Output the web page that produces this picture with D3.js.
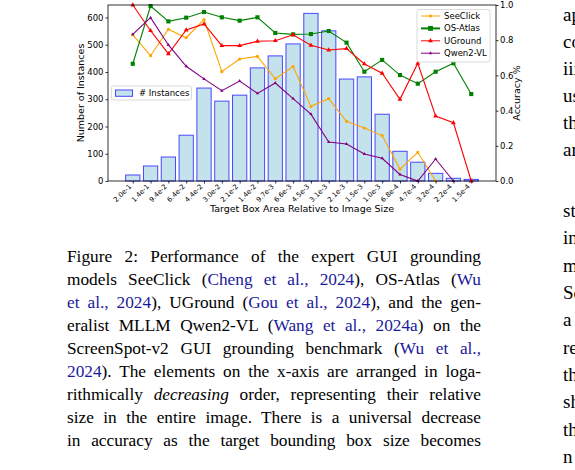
<!DOCTYPE html>
<meta charset="utf-8">
<script src="https://d3js.org/d3.v7.min.js"></script>
<style>
body {
    margin: 0;
    background: #fff;
    width: 575px;
    height: 470px;
    overflow: hidden;
    position: relative;
}
svg {
    position: absolute;
    left: 0;
    top: 0;
}
text {
    fill: #000;
    font-family: 'DejaVu Sans', sans-serif;
}
.caption {
    position: absolute;
    left: 67px;
    top: 244.5px;
    width: 414px;
    font: 17.3px/23.1px 'Liberation Serif', 'Times New Roman', serif;
    color: #000;
}
.caption div {
    text-align: justify;
    text-align-last: justify;
}
.cite { color: #1a1a9c; }
</style>
<body>
<script>
// tick labels (relative box area) and bar counts
var categories = ['2.0e-1', '1.4e-1', '9.4e-2', '6.4e-2', '4.4e-2', '3.0e-2', '2.1e-2', '1.4e-2', '9.7e-3', '6.6e-3',
                  '4.5e-3', '3.1e-3', '2.1e-3', '1.5e-3', '1.0e-3', '6.8e-4', '4.7e-4', '3.2e-4', '2.2e-4', '1.5e-4'];
var instances = [22, 55, 88, 168, 341, 293, 315, 415, 459, 503, 615, 551, 374, 382, 245, 109, 69, 28, 10, 6];

// accuracy per model (null = no point)
var seeclick = [0.830, 0.712, 0.862, 0.814, 0.917, 0.621, 0.693, 0.708, 0.581, 0.650,
                0.424, 0.468, 0.339, 0.301, 0.258, 0.068, 0.163, 0.0, null, null];
var osatlas  = [0.666, 0.994, 0.907, 0.928, 0.960, 0.930, 0.911, 0.930, 0.841, 0.833,
                0.835, 0.852, 0.786, 0.621, 0.688, 0.602, 0.553, 0.621, 0.669, 0.494];
var uground  = [1.000, 0.854, 0.723, 0.858, 0.892, 0.769, 0.769, 0.794, 0.797, 0.831,
                0.771, 0.744, 0.752, 0.665, 0.612, 0.464, 0.669, 0.369, 0.331, 0.0];
var qwen     = [0.833, 0.928, 0.773, 0.652, 0.580, 0.513, 0.568, 0.498, 0.557, 0.468,
                0.380, 0.222, 0.210, 0.153, 0.129, 0.037, 0.0, 0.125, 0.0, null];

var leftTicks = [0, 100, 200, 300, 400, 500, 600];
var rightTicks = [0, 0.2, 0.4, 0.6, 0.8, 1.0];

var models = [
    {name: 'SeeClick', values: seeclick, color: 'orange', symbol: d3.symbolCircle, size: 8, legendWidth: 1},
    {name: 'OS-Atlas', values: osatlas, color: 'green', symbol: d3.symbolSquare, size: 17, legendWidth: 2},
    {name: 'UGround', values: uground, color: 'red', symbol: d3.symbolTriangle, size: 10, legendWidth: 1},
    {name: 'Qwen2-VL', values: qwen, color: 'purple', symbol: d3.symbolTriangle, size: 5, legendWidth: 1}
];

var W = 575, H = 470;
var plot = {left: 108, right: 496, top: 5, bottom: 181};

var svg = d3.select('body').append('svg')
    .attr('width', W)
    .attr('height', H);

// scales
var x = d3.scaleLinear().domain([-1.39, 20.39]).range([plot.left, plot.right]);
var yL = d3.scaleLinear().domain([0, 645.75]).range([plot.bottom, plot.top]);
var yR = d3.scaleLinear().domain([0, 1]).range([plot.bottom, plot.top]);

// bars
var barW = x(0.8) - x(0);
svg.selectAll('.bar')
    .data(instances)
    .enter()
    .append('rect')
    .attr('class', 'bar')
    .attr('x', function(d, i) { return x(i - 0.4); })
    .attr('y', function(d) { return yL(d); })
    .attr('width', barW)
    .attr('height', function(d) { return yL(0) - yL(d); })
    .style('fill', '#c4e2eb')
    .style('stroke', '#4848ff')
    .style('stroke-width', 1);

// left legend
var lg = svg.append('g');
lg.append('rect')
    .attr('x', 111.5).attr('y', 86).attr('width', 80).attr('height', 14)
    .attr('rx', 2)
    .style('fill', 'white').style('fill-opacity', 0.8)
    .style('stroke', '#d0d0d0').style('stroke-width', 0.8);
lg.append('rect')
    .attr('x', 115.5).attr('y', 90).attr('width', 17).attr('height', 6.3)
    .style('fill', '#c4e2eb').style('stroke', '#4848ff').style('stroke-width', 1);
lg.append('text')
    .attr('x', 139).attr('y', 93.3)
    .attr('dominant-baseline', 'central')
    .style('font-size', '8.5px')
    .text('# Instances');

// accuracy lines
var line = d3.line()
    .defined(function(d) { return d != null; })
    .x(function(d, i) { return x(i); })
    .y(function(d) { return yR(d); });

models.forEach(function(m) {
    svg.append('path')
        .datum(m.values)
        .attr('d', line)
        .style('fill', 'none')
        .style('stroke', m.color)
        .style('stroke-width', 1.1);

    var pts = m.values.map(function(v, i) { return {v: v, i: i}; })
        .filter(function(p) { return p.v != null; });
    svg.selectAll(null)
        .data(pts)
        .enter()
        .append('path')
        .attr('d', d3.symbol().type(m.symbol).size(m.size))
        .attr('transform', function(p) { return 'translate(' + x(p.i) + ',' + yR(p.v) + ')'; })
        .style('fill', m.color);
});

// axes
var axL = svg.append('g')
    .attr('transform', 'translate(' + plot.left + ',0)')
    .call(d3.axisLeft(yL).tickValues(leftTicks).tickSize(2.5).tickPadding(2));
var axR = svg.append('g')
    .attr('transform', 'translate(' + plot.right + ',0)')
    .call(d3.axisRight(yR).tickValues(rightTicks).tickSize(2.5).tickPadding(1.5).tickFormat(d3.format('.1f')));
var axB = svg.append('g')
    .attr('transform', 'translate(0,' + plot.bottom + ')')
    .call(d3.axisBottom(x).tickValues(d3.range(categories.length)).tickSize(2.5)
          .tickFormat(function(i) { return categories[i]; }));

[axL, axR, axB].forEach(function(a) {
    a.select('.domain').remove();
    a.selectAll('line').style('stroke', '#000').style('stroke-width', 0.8);
    a.selectAll('text').style('font-family', "'DejaVu Sans', sans-serif").style('font-size', '8.5px');
});

axB.selectAll('text')
    .style('font-size', '6.8px')
    .attr('text-anchor', 'end')
    .attr('y', 0)
    .attr('dy', 0)
    .attr('transform', 'translate(-1.5,6) rotate(-45)');

// frame
svg.append('rect')
    .attr('x', plot.left).attr('y', plot.top)
    .attr('width', plot.right - plot.left).attr('height', plot.bottom - plot.top)
    .style('fill', 'none').style('stroke', '#000').style('stroke-width', 0.8);

// axis labels
svg.append('text')
    .text('Number of Instances')
    .attr('transform', 'translate(84,' + ((plot.top + plot.bottom) / 2) + ') rotate(-90)')
    .attr('text-anchor', 'middle')
    .style('font-size', '9.5px');

svg.append('text')
    .text('Accuracy %')
    .attr('transform', 'translate(520,' + ((plot.top + plot.bottom) / 2) + ') rotate(-90)')
    .attr('text-anchor', 'middle')
    .style('font-size', '9.5px');

svg.append('text')
    .text('Target Box Area Relative to Image Size')
    .attr('x', (plot.left + plot.right) / 2)
    .attr('y', 211.5)
    .attr('text-anchor', 'middle')
    .style('font-size', '9.5px');

// right legend
var rg = svg.append('g');
rg.append('rect')
    .attr('x', 417).attr('y', 9.5).attr('width', 73).attr('height', 52.5)
    .attr('rx', 2)
    .style('fill', 'white').style('fill-opacity', 0.8)
    .style('stroke', '#d0d0d0').style('stroke-width', 0.8);

var entry = rg.selectAll('.entry')
    .data(models)
    .enter()
    .append('g')
    .attr('transform', function(d, i) { return 'translate(421,' + (16 + i * 12.4) + ')'; });
entry.append('line')
    .attr('x1', 0).attr('x2', 19)
    .style('stroke', function(d) { return d.color; })
    .style('stroke-width', function(d) { return d.legendWidth; });
entry.append('path')
    .attr('d', function(d) { return d3.symbol().type(d.symbol).size(d.size * (d.name == 'OS-Atlas' ? 1.4 : 1))(); })
    .attr('transform', 'translate(9.5,0)')
    .style('fill', function(d) { return d.color; });
entry.append('text')
    .attr('x', 23)
    .attr('dominant-baseline', 'central')
    .style('font-size', '8.5px')
    .text(function(d) { return d.name; });

// right column body text (cut off by the page edge, as in the source page)
var rightWords = ['ap', 'co', 'iii', 'us', 'th', 'ar', 'st', 'in', 'm', 'Sc', 'a', 're', 'th', 'sh', 'th', 'n'];
var rightY = [21, 48, 75, 102, 129, 156, 217, 244, 272, 299, 326, 354, 381, 408, 436, 463];
svg.selectAll('.rcol')
    .data(rightWords)
    .enter()
    .append('text')
    .attr('x', 563)
    .attr('y', function(d, i) { return rightY[i]; })
    .style('font-family', "'Liberation Serif', serif")
    .style('font-size', '19px')
    .text(function(d) { return d; });

// caption
var captionLines = [
    'Figure 2: Performance of the expert GUI grounding',
    'models SeeClick (<span class="cite">Cheng et al., 2024</span>), OS-Atlas (<span class="cite">Wu</span>',
    '<span class="cite">et al., 2024</span>), UGround (<span class="cite">Gou et al., 2024</span>), and the gen-',
    'eralist MLLM Qwen2-VL (<span class="cite">Wang et al., 2024a</span>) on the',
    'ScreenSpot-v2 GUI grounding benchmark (<span class="cite">Wu et al.,</span>',
    '<span class="cite">2024</span>). The elements on the x-axis are arranged in loga-',
    'rithmically <i>decreasing</i> order, representing their relative',
    'size in the entire image. There is a universal decrease',
    'in accuracy as the target bounding box size becomes'
];
d3.select('body').append('div')
    .attr('class', 'caption')
    .selectAll('div')
    .data(captionLines)
    .enter()
    .append('div')
    .html(function(d) { return d; });
</script>
</body>
